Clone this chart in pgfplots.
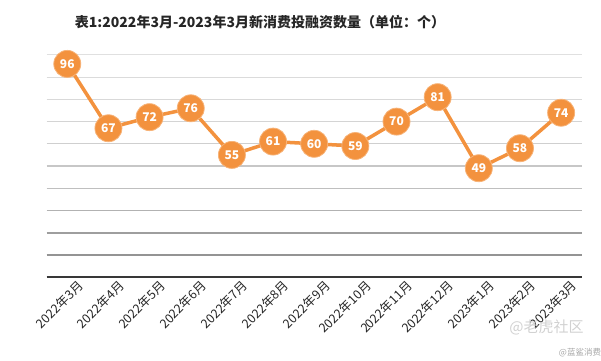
\documentclass[border=0pt]{standalone}
\usepackage{pgfplots}
\pgfplotsset{compat=1.18}
\usepackage{fontspec}
\setmainfont{Noto Sans CJK SC}
\definecolor{org}{RGB}{243,146,62}
\begin{document}
\begin{tikzpicture}
\useasboundingbox (-46.7bp,-84bp) rectangle (554.3bp,277bp);
\begin{axis}[
  scale only axis,
  width=535bp, height=222bp,
  xmin=-0.5, xmax=12.5, ymin=0, ymax=100,
  axis line style={draw=none},
  major tick length=0pt,
  /pgf/number format/assume math mode=true,
  xtick={0,...,12},
  xticklabels={2022年3月,2022年4月,2022年5月,2022年6月,2022年7月,2022年8月,2022年9月,2022年10月,2022年11月,2022年12月,2023年1月,2023年2月,2023年3月},
  xticklabel style={rotate=45, anchor=north east, font=\fontsize{12.5bp}{14bp}\selectfont, text=black!85, inner sep=0bp, xshift=5bp, yshift=-8bp},
  ytick=\empty,
  clip=false,
  nodes near coords,
  nodes near coords align=center,
  every node near coord/.append style={text=white, font=\fontsize{12bp}{14bp}\selectfont\bfseries, anchor=center, yshift=0pt},
]
\draw[color=black!12, line width=1bp] (rel axis cs:0,1) -- (rel axis cs:1,1);
\draw[color=black!14, line width=1.2bp] (rel axis cs:0,0.9) -- (rel axis cs:1,0.9);
\draw[color=black!15, line width=1.2bp] (rel axis cs:0,0.8) -- (rel axis cs:1,0.8);
\draw[color=black!17, line width=1.2bp] (rel axis cs:0,0.7) -- (rel axis cs:1,0.7);
\draw[color=black!19, line width=1.3bp] (rel axis cs:0,0.6) -- (rel axis cs:1,0.6);
\draw[color=black!22, line width=1.4bp] (rel axis cs:0,0.5) -- (rel axis cs:1,0.5);
\draw[color=black!25, line width=1.2bp] (rel axis cs:0,0.4) -- (rel axis cs:1,0.4);
\draw[color=black!30, line width=1.2bp] (rel axis cs:0,0.3) -- (rel axis cs:1,0.3);
\draw[color=black!38, line width=1.8bp] (rel axis cs:0,0.2) -- (rel axis cs:1,0.2);
\draw[color=black!42, line width=1.8bp] (rel axis cs:0,0.1) -- (rel axis cs:1,0.1);
\draw[color=black!78, line width=2.4bp] (rel axis cs:0,0) -- (rel axis cs:1,0);
\addplot[color=org, line width=3.5bp, mark=*, mark size=13.5bp, mark options={fill=org, draw=org!70!white, line width=0.8bp}]
coordinates {(0,96) (1,67) (2,72) (3,76) (4,55) (5,61) (6,60) (7,59) (8,70) (9,81) (10,49) (11,58) (12,74)};
\end{axis}
\node[font=\fontsize{14bp}{17bp}\selectfont\bfseries, text=black!85] at (213.3bp,255bp) {表1:2022年3月-2023年3月新消费投融资数量（单位：个）};
\node[font=\fontsize{15bp}{17bp}\selectfont, text=black!18] at (499.8bp,-50bp) {@老虎社区};
\node[font=\fontsize{8.5bp}{10bp}\selectfont, text=black!35] at (533.3bp,-76bp) {@蓝鲨消费};
\end{tikzpicture}
\end{document}
